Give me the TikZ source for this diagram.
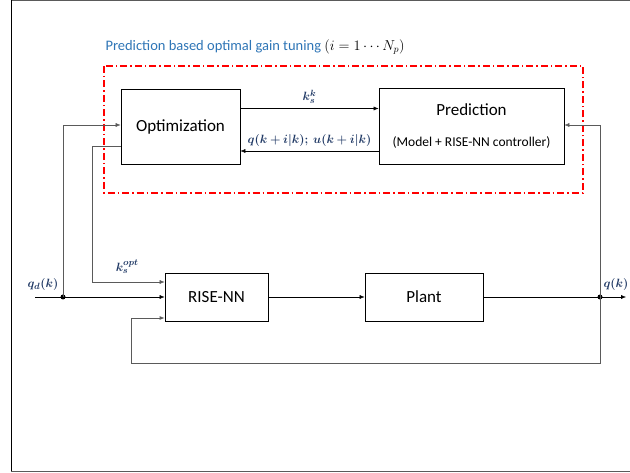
\documentclass[tikz,border=0pt]{standalone}
\usepackage{fontspec}
\setmainfont{Carlito}
\usepackage{amsmath,bm}
\usepackage{tikz}
\usetikzlibrary{arrows.meta}
\definecolor{titleblue}{RGB}{46,117,182}
\definecolor{navy}{RGB}{31,56,100}
\definecolor{linegray}{RGB}{90,90,90}

\begin{document}
\begin{tikzpicture}[x=1pt,y=-1pt]

\tikzstyle{every node}=[font=\fontsize{17}{20}\selectfont]
\tikzstyle{block}=[draw,thick,minimum width=#1,inner sep=0pt]
\tikzstyle{arr}=[-{Latex[length=5pt,width=4pt]}]
\tikzstyle{lbl}=[text=navy,font=\fontsize{12.5}{14}\selectfont]

\useasboundingbox (0,0) rectangle (630,473);
% slide frame
\draw[linegray, line width=1.2pt] (11,0.6) -- (630,0.6);
\draw[line width=1pt] (11,0) -- (11,471);
\draw[linegray, line width=1.2pt] (11,471.5) -- (630,471.5);

% tuning loop
\node[anchor=west, text=titleblue, font=\fontsize{14.5}{17}\selectfont] (title) at (102,47)
	{Prediction based optimal gain tuning \textcolor{black}{$(i=1\cdots N_p)$}};
\draw[red, line width=1.3pt, dash pattern=on 7pt off 3pt on 1.5pt off 3pt]
	(104,66) rectangle (583,193);

\node[block=119pt, minimum height=75pt] (opt) at (180.5,126.5) {Optimization};
\node[block=185pt, minimum height=76pt, align=center] (pred) at (471.5,126)
	{Prediction\\[11pt]{\fontsize{13.5}{15}\selectfont(Model + RISE-NN controller)}};

\draw[arr] ([yshift=18pt]opt.east) -- ([yshift=18pt]opt.east -| pred.west)
	node [midway, above=1pt, lbl] {$\bm{k_s^k}$};
\draw[arr] ([yshift=-25pt]pred.west) -- ([yshift=-25pt]pred.west -| opt.east)
	node [midway, above=1pt, lbl] {$\bm{q(k+i|k);\ u(k+i|k)}$};

% control loop
\node[block=103pt, minimum height=48pt] (rise) at (216.5,297) {RISE-NN};
\node[block=118pt, minimum height=48pt] (plant) at (424,297) {Plant};

\coordinate (qdin) at (35,297);
\coordinate (qdj) at (63,297);
\coordinate (qout) at (626,297);
\coordinate (qj) at (600,297);
\coordinate (fbl) at (131,363);

\draw[arr] (qdin) -- (rise.west);
\node[lbl, above] (qdlbl) at (43,294) {$\bm{q_d(k)}$};
\fill (qdj) circle (2.5pt);
\draw[arr, linegray] (qdj) |- ([yshift=1.5pt]opt.west);
\draw[arr, linegray] ([yshift=-20pt]opt.west) -- ++(-28,0) |- ([yshift=15pt]rise.west)
	node [pos=0.74, above=5pt, lbl] {$\bm{k_s^{opt}}$};

\draw[arr] (rise) -- (plant);
\draw[arr] (plant.east) -- (qout);
\node[lbl, above] (qlbl) at (616,294) {$\bm{q(k)}$};
\fill (qj) circle (2.5pt);
\draw[arr, linegray] (qj) |- ([yshift=1pt]pred.east);
\draw[arr, linegray, thick] (qj) |- (fbl) |- ([yshift=-21pt]rise.west);
%\draw (qj) -- (fbl);
\end{tikzpicture}
\end{document}
